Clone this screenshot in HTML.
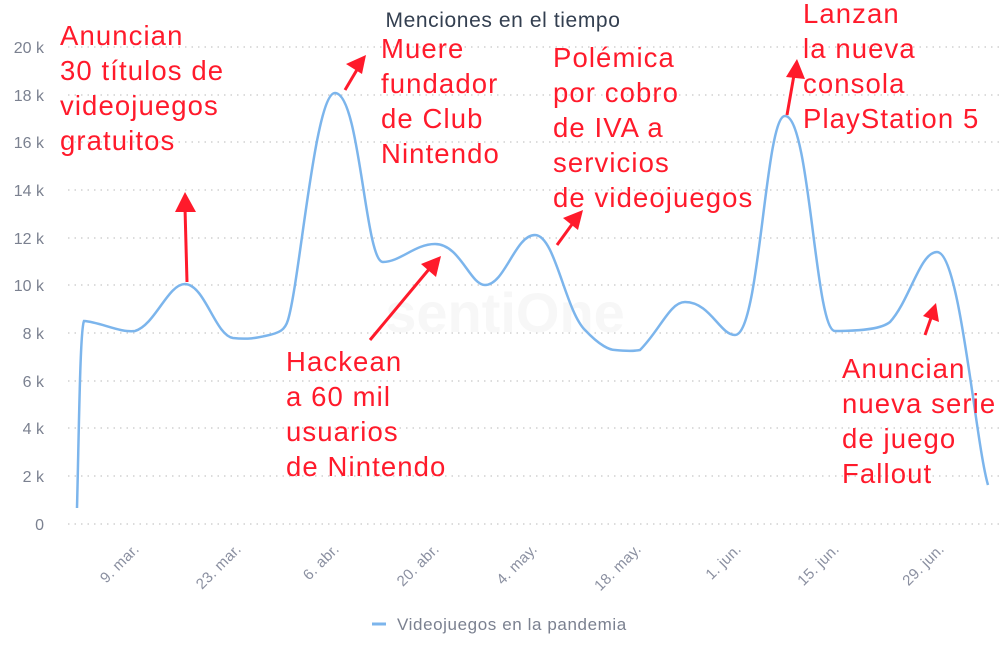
<!DOCTYPE html>
<html><head><meta charset="utf-8"><style>
body{margin:0;background:#fff;width:1001px;height:652px;overflow:hidden}
svg{font-family:"Liberation Sans",sans-serif}
.a{fill:#ff1a2b;font-size:27.5px;letter-spacing:1.1px}
</style></head><body>
<svg width="1001" height="652" viewBox="0 0 1001 652">
<text x="503" y="27" text-anchor="middle" font-size="21" letter-spacing="0.6" fill="#333f50">Menciones en el tiempo</text>
<g stroke="#c8c8c8" stroke-width="1.3" stroke-dasharray="1.5 5">
<line x1="68" x2="1000" y1="47" y2="47"/><line x1="68" x2="1000" y1="95" y2="95"/>
<line x1="68" x2="1000" y1="142" y2="142"/><line x1="68" x2="1000" y1="190" y2="190"/>
<line x1="68" x2="1000" y1="238" y2="238"/><line x1="68" x2="1000" y1="285" y2="285"/>
<line x1="68" x2="1000" y1="333" y2="333"/><line x1="68" x2="1000" y1="381" y2="381"/>
<line x1="68" x2="1000" y1="428" y2="428"/><line x1="68" x2="1000" y1="476" y2="476"/>
<line x1="68" x2="1000" y1="524" y2="524"/>
</g>
<g font-size="16" fill="#7b8190" text-anchor="end">
<text x="44" y="53">20 k</text><text x="44" y="101">18 k</text><text x="44" y="148">16 k</text>
<text x="44" y="196">14 k</text><text x="44" y="244">12 k</text><text x="44" y="291">10 k</text>
<text x="44" y="339">8 k</text><text x="44" y="387">6 k</text><text x="44" y="434">4 k</text>
<text x="44" y="482">2 k</text><text x="44" y="530">0</text>
</g>
<g font-size="15" fill="#8a8fa0" text-anchor="end" letter-spacing="0.3">
<text transform="translate(140,550) rotate(-45)">9. mar.</text>
<text transform="translate(242,550) rotate(-45)">23. mar.</text>
<text transform="translate(340,550) rotate(-45)">6. abr.</text>
<text transform="translate(440,550) rotate(-45)">20. abr.</text>
<text transform="translate(538,550) rotate(-45)">4. may.</text>
<text transform="translate(642,550) rotate(-45)">18. may.</text>
<text transform="translate(742,550) rotate(-45)">1. jun.</text>
<text transform="translate(840,550) rotate(-45)">15. jun.</text>
<text transform="translate(945,550) rotate(-45)">29. jun.</text>
</g>
<text x="505" y="332" text-anchor="middle" font-size="56" font-weight="bold" fill="#f7f7f7">sentiOne</text>
<path d="M77,508 C79,430 80,330 84,321 C100,322 120,333 135,331 C155,325 168,284 185,284 C205,285 215,335 233,338 C250,340 260,337 265,336 C280,333 285,330 288,320 C300,280 315,93 335,93 C360,93 365,262 383,262 C400,262 415,244 435,244 C460,244 470,285 485,285 C505,285 515,235 535,235 C555,235 565,310 585,330 C600,346 610,350 615,350 C625,351 635,351 640,350 C660,330 670,302 685,302 C710,302 720,335 735,335 C760,335 765,116 785,116 C810,116 815,331 835,331 C855,331 880,330 890,322 C910,300 920,252 937,252 C960,252 975,440 988,485" fill="none" stroke="#7cb5ec" stroke-width="2.5"/>
<g stroke="#ff1a2b" stroke-width="3" fill="#ff1a2b">
<line x1="187" y1="282" x2="185" y2="208"/><polygon points="185,192 175,212 196,212" stroke="none"/>
<line x1="345" y1="90" x2="358" y2="68"/><polygon points="366,55 346,64 362,74" stroke="none"/>
<line x1="370" y1="340" x2="430" y2="268"/><polygon points="441,256 421,264 436,277" stroke="none"/>
<line x1="557" y1="245" x2="573" y2="223"/><polygon points="583,210 563,218 578,230" stroke="none"/>
<line x1="787" y1="115" x2="794" y2="75"/><polygon points="797,59 786,77 805,79" stroke="none"/>
<line x1="925" y1="335" x2="931" y2="318"/><polygon points="936,303 923,316 939,322" stroke="none"/>
</g>
<g class="a">
<text x="60" y="45">Anuncian</text><text x="60" y="80">30 títulos de</text><text x="60" y="115">videojuegos</text><text x="60" y="150">gratuitos</text>
<text x="381" y="58">Muere</text><text x="381" y="93">fundador</text><text x="381" y="128">de Club</text><text x="381" y="163">Nintendo</text>
<text x="553" y="67">Polémica</text><text x="553" y="102">por cobro</text><text x="553" y="137">de IVA a</text><text x="553" y="172">servicios</text><text x="553" y="207">de videojuegos</text>
<text x="803" y="23">Lanzan</text><text x="803" y="58">la nueva</text><text x="803" y="93">consola</text><text x="803" y="128">PlayStation 5</text>
<text x="286" y="371">Hackean</text><text x="286" y="406">a 60 mil</text><text x="286" y="441">usuarios</text><text x="286" y="476">de Nintendo</text>
<text x="842" y="378">Anuncian</text><text x="842" y="413">nueva serie</text><text x="842" y="448">de juego</text><text x="842" y="483">Fallout</text>
</g>
<line x1="372" y1="624" x2="386" y2="624" stroke="#7cb5ec" stroke-width="3"/>
<text x="397" y="630" font-size="17" letter-spacing="0.6" fill="#7b8190">Videojuegos en la pandemia</text>
</svg>
</body></html>
